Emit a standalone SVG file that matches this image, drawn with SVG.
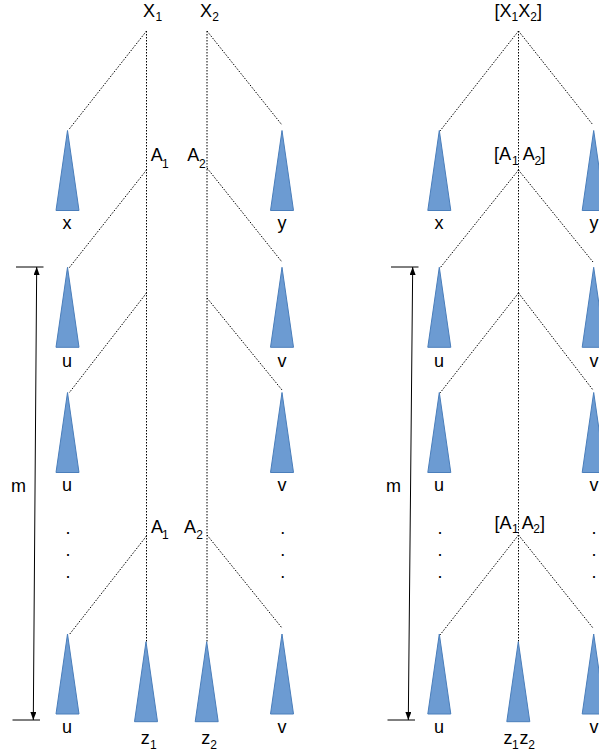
<svg xmlns="http://www.w3.org/2000/svg" width="599" height="756" viewBox="0 0 599 756">
<style>
text{font-family:"Liberation Sans",Arial,Helvetica,sans-serif;font-size:18px;fill:#000}
.sub{font-size:12px}
.c{text-anchor:middle}
.tri{fill:#6C9BD2;stroke:#4A7EBB;stroke-width:1}
.dot{fill:none;stroke:#000;stroke-width:1;stroke-dasharray:1.5 1.5}
.dim{fill:none;stroke:#000;stroke-width:1}
</style>
<defs>
<marker id="ah" markerWidth="8" markerHeight="6" refX="8" refY="3" orient="auto-start-reverse" markerUnits="userSpaceOnUse">
<path d="M0,0 L8,3 L0,6 z" fill="#000"/>
</marker>
<polygon id="t" points="0,0 11.5,80 -11.5,80"/>
</defs>
<rect width="599" height="756" fill="#fff"/>

<g id="connectors">
<line class="dot" x1="146.5" y1="31" x2="146.5" y2="642"/>
<line class="dot" x1="207" y1="31" x2="207" y2="642"/>
<line class="dot" x1="146.5" y1="31" x2="68.5" y2="130"/>
<line class="dot" x1="207" y1="31" x2="282" y2="125"/>
<line class="dot" x1="146.5" y1="170" x2="69" y2="268"/>
<line class="dot" x1="207" y1="168" x2="282" y2="262"/>
<line class="dot" x1="146.5" y1="293" x2="69" y2="393"/>
<line class="dot" x1="207" y1="298" x2="282" y2="390"/>
<line class="dot" x1="146.5" y1="536" x2="69" y2="635"/>
<line class="dot" x1="207" y1="535" x2="282" y2="628"/>
<line class="dot" x1="518.5" y1="31" x2="518.5" y2="642"/>
<line class="dot" x1="518.5" y1="31" x2="440" y2="131"/>
<line class="dot" x1="518.5" y1="31" x2="593" y2="125"/>
<line class="dot" x1="518.5" y1="170" x2="440" y2="268"/>
<line class="dot" x1="518.5" y1="170" x2="593" y2="262"/>
<line class="dot" x1="518.5" y1="293" x2="440" y2="393"/>
<line class="dot" x1="518.5" y1="293" x2="593" y2="390"/>
<line class="dot" x1="518.5" y1="535" x2="440" y2="635"/>
<line class="dot" x1="518.5" y1="535" x2="593" y2="628"/>
</g>

<g id="dim-left">
<line class="dim" x1="16" y1="267" x2="43.5" y2="267"/>
<line class="dim" x1="12.5" y1="720" x2="40" y2="720"/>
<line class="dim" x1="36.7" y1="267" x2="33.3" y2="720" marker-start="url(#ah)" marker-end="url(#ah)"/>
<text x="11" y="491.5">m</text>
</g>
<g id="dim-right">
<line class="dim" x1="391" y1="267" x2="418.5" y2="267"/>
<line class="dim" x1="387.5" y1="720" x2="415" y2="720"/>
<line class="dim" x1="412.7" y1="267" x2="408.3" y2="720" marker-start="url(#ah)" marker-end="url(#ah)"/>
<text x="386" y="491.5">m</text>
</g>

<!-- left panel labels -->
<g id="X1"><text x="143" y="16.7">X</text><text class="sub" x="155.5" y="21.3">1</text></g>
<g id="X2"><text x="200" y="16.7">X</text><text class="sub" x="212.3" y="21.3">2</text></g>
<g id="A1-top"><text x="150.7" y="160.7">A</text><text class="sub" x="162" y="168.3">1</text></g>
<g id="A2-top"><text x="187.3" y="160.7">A</text><text class="sub" x="199" y="168.3">2</text></g>
<g id="A1-bot"><text x="151" y="533">A</text><text class="sub" x="162" y="538.5">1</text></g>
<g id="A2-bot"><text x="184" y="533">A</text><text class="sub" x="196.3" y="539">2</text></g>

<!-- left panel triangles -->
<g id="L-x"><use href="#t" class="tri" x="67.5" y="130.5"/><text class="c" x="67" y="229.3">x</text></g>
<g id="L-y"><use href="#t" class="tri" x="282" y="130.5"/><text class="c" x="282" y="229.3">y</text></g>
<g id="L-u1"><use href="#t" class="tri" x="67.5" y="267.3"/><text class="c" x="67" y="367">u</text></g>
<g id="L-v1"><use href="#t" class="tri" x="282" y="267.3"/><text class="c" x="282" y="367">v</text></g>
<g id="L-u2"><use href="#t" class="tri" x="67.5" y="392.5"/><text class="c" x="67" y="491">u</text></g>
<g id="L-v2"><use href="#t" class="tri" x="282" y="392.5"/><text class="c" x="282" y="491">v</text></g>
<g id="L-dots-u"><text class="c" x="68" y="534.3">.</text><text class="c" x="68" y="556">.</text><text class="c" x="68" y="577.7">.</text></g>
<g id="L-dots-v"><text class="c" x="282.7" y="534.3">.</text><text class="c" x="282.7" y="556">.</text><text class="c" x="282.7" y="577.7">.</text></g>
<g id="L-u3"><use href="#t" class="tri" x="67.5" y="634"/><text class="c" x="67" y="733">u</text></g>
<g id="L-v3"><use href="#t" class="tri" x="282" y="634"/><text class="c" x="282" y="733">v</text></g>
<g id="L-z1"><use href="#t" class="tri" x="146" y="641.7"/><text x="140.8" y="744.3">z</text><text class="sub" x="150" y="749.3">1</text></g>
<g id="L-z2"><use href="#t" class="tri" x="206.7" y="641.7"/><text x="201.2" y="744.3">z</text><text class="sub" x="210.3" y="749.3">2</text></g>

<!-- right panel labels -->
<g id="X1X2"><text x="494.5" y="16.7">[X<tspan class="sub" dy="4">1</tspan><tspan dy="-4">X</tspan><tspan class="sub" dy="4">2</tspan><tspan dy="-4">]</tspan></text></g>
<g id="A1A2-top"><text x="494" y="160">[A</text><text class="sub" x="512" y="164.5">1</text><text x="522.7" y="160">A</text><text class="sub" x="534.6" y="164.5">2</text><text x="540.5" y="160">]</text></g>
<g id="A1A2-bot"><text x="494.5" y="528.5">[A</text><text class="sub" x="512" y="532.5">1</text><text x="521.7" y="528.5">A</text><text class="sub" x="533.3" y="532.5">2</text><text x="540" y="528.5">]</text></g>

<!-- right panel triangles -->
<g id="R-x"><use href="#t" class="tri" x="439.3" y="130.5"/><text class="c" x="439" y="229.3">x</text></g>
<g id="R-y"><use href="#t" class="tri" x="593.7" y="130.5"/><text class="c" x="594" y="229.3">y</text></g>
<g id="R-u1"><use href="#t" class="tri" x="439.3" y="267.3"/><text class="c" x="439" y="367">u</text></g>
<g id="R-v1"><use href="#t" class="tri" x="593.7" y="267.3"/><text class="c" x="594" y="367">v</text></g>
<g id="R-u2"><use href="#t" class="tri" x="439.3" y="392.5"/><text class="c" x="439" y="491">u</text></g>
<g id="R-v2"><use href="#t" class="tri" x="593.7" y="392.5"/><text class="c" x="594" y="491">v</text></g>
<g id="R-dots-u"><text class="c" x="440" y="534.3">.</text><text class="c" x="440" y="556">.</text><text class="c" x="440" y="577.7">.</text></g>
<g id="R-dots-v"><text class="c" x="594" y="534.3">.</text><text class="c" x="594" y="556">.</text><text class="c" x="594" y="577.7">.</text></g>
<g id="R-u3"><use href="#t" class="tri" x="439.3" y="634"/><text class="c" x="439" y="733">u</text></g>
<g id="R-v3"><use href="#t" class="tri" x="593.7" y="634"/><text class="c" x="594" y="733">v</text></g>
<g id="R-z1z2"><use href="#t" class="tri" x="518.3" y="641.7"/><text x="503.6" y="744.3">z</text><text class="sub" x="512" y="749.3">1</text><text x="519.5" y="744.3">z</text><text class="sub" x="528.3" y="749.3">2</text></g>
</svg>
